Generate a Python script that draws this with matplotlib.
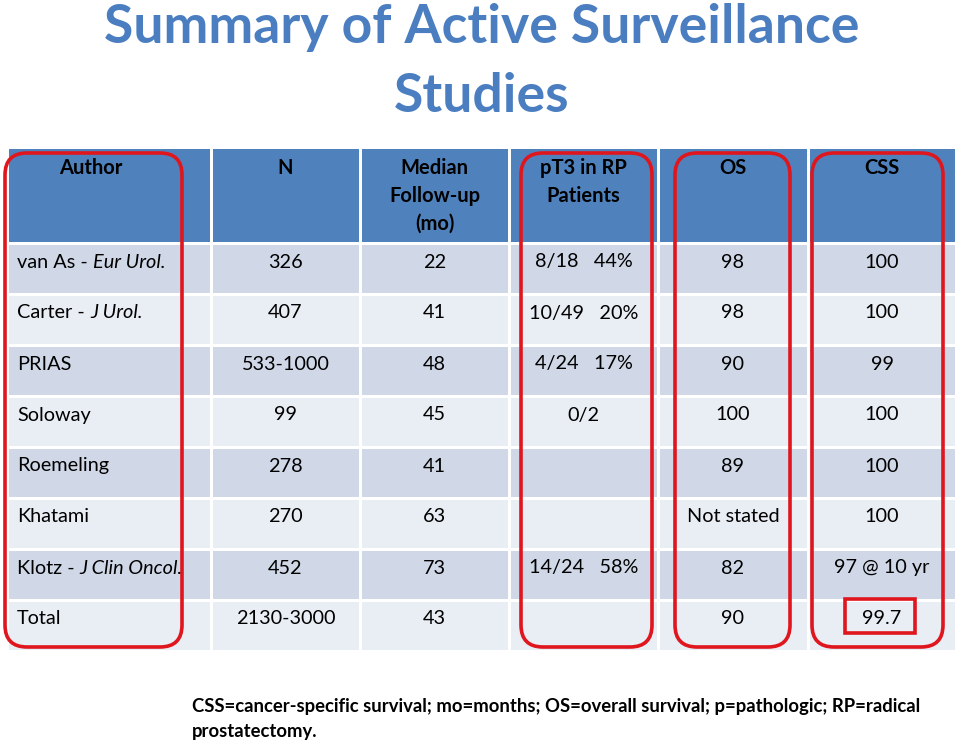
import matplotlib
matplotlib.use("Agg")
import matplotlib.pyplot as plt
from matplotlib.patches import Rectangle, FancyBboxPatch

plt.rcParams['font.family'] = ['Lato', 'DejaVu Sans']

# table content
headers = ["Author", "N", "Median\nFollow-up\n(mo)", "pT3 in RP\nPatients", "OS", "CSS"]
authors = ["van As - ", "Carter - ", "PRIAS", "Soloway", "Roemeling", "Khatami",
           "Klotz - ", "Total"]
journals = ["Eur Urol.", "J Urol.", "", "", "", "", "J Clin Oncol.", ""]
n_patients = ["326", "407", "533-1000", "99", "278", "270", "452", "2130-3000"]
followup = ["22", "41", "48", "45", "41", "63", "73", "43"]
pt3 = ["8/18   44%", "10/49   20%", "4/24   17%", "0/2", "", "", "14/24   58%", ""]
os_vals = ["98", "98", "90", "100", "89", "Not stated", "82", "90"]
css_vals = ["100", "100", "99", "100", "100", "100", "97 @ 10 yr", "99.7"]
footnote = ("CSS=cancer-specific survival; mo=months; OS=overall survival; p=pathologic; RP=radical\n"
            "prostatectomy.")

# layout (pixels)
col_edges = [7, 211, 360, 509, 658, 808, 956]
head_top, head_bot = 149, 243
row_h = 51
HEAD_BLUE = "#4F81BD"
ROW_DARK = "#D0D8E8"
ROW_LIGHT = "#E9EDF4"
RED = "#E0161E"
TITLE_BLUE = "#4A7EC0"
FS = 14.3

fig = plt.figure(figsize=(9.6, 7.4), dpi=100)
ax = fig.add_axes([0, 0, 1, 1])
ax.set_xlim(0, 960)
ax.set_ylim(740, 0)
ax.axis("off")

ax.text(482, 28, "Summary of Active Surveillance", ha="center", va="center",
        fontsize=38.5, fontweight="bold", color=TITLE_BLUE)
ax.text(482, 96, "Studies", ha="center", va="center",
        fontsize=38.5, fontweight="bold", color=TITLE_BLUE)

gap = 1.5
for c in range(len(headers)):
    x0, x1 = col_edges[c], col_edges[c + 1]
    ax.add_patch(Rectangle((x0 + gap, head_top), x1 - x0 - 2 * gap, head_bot - head_top - gap,
                           facecolor=HEAD_BLUE, edgecolor="none"))
    hx = (x0 + x1) / 2
    if c == 0:
        hx = 91
    ax.text(hx, 158, headers[c], ha="center", va="top", fontsize=14.5,
            fontweight="bold", color="black", linespacing=1.5)

columns = [n_patients, followup, pt3, os_vals, css_vals]
for r in range(len(authors)):
    y0 = head_bot + r * row_h
    color = ROW_DARK if r % 2 == 0 else ROW_LIGHT
    for c in range(len(headers)):
        x0, x1 = col_edges[c], col_edges[c + 1]
        ax.add_patch(Rectangle((x0 + gap, y0 + gap), x1 - x0 - 2 * gap, row_h - 2 * gap,
                               facecolor=color, edgecolor="none"))
    ty = y0 + 19
    t = ax.text(17, ty, authors[r], ha="left", va="center", fontsize=FS, color="black")
    if journals[r]:
        fig.canvas.draw()
        bb = t.get_window_extent()
        ax.annotate(journals[r], xy=(bb.x1, (bb.y0 + bb.y1) / 2), xycoords="figure pixels",
                    ha="left", va="center", fontsize=FS, style="italic", color="black",
                    annotation_clip=False)
    for c, vals in enumerate(columns, start=1):
        cx = (col_edges[c] + col_edges[c + 1]) / 2
        ax.text(cx, ty, vals[r], ha="center", va="center", fontsize=FS, color="black")

# red highlight outlines
for (x0, x1) in [(5, 182), (521, 652), (675, 790), (812, 943)]:
    ax.add_patch(FancyBboxPatch((x0, 153), x1 - x0, 647 - 153,
                                boxstyle="round,pad=0,rounding_size=22",
                                facecolor="none", edgecolor=RED, linewidth=2.6))
ax.add_patch(Rectangle((845, 599), 70, 34, facecolor="none", edgecolor=RED, linewidth=2.6))

ax.text(192, 698, footnote, ha="left", va="top", fontsize=13.3, fontweight="bold",
        color="black", linespacing=1.55)

fig.savefig("out.png", dpi=100)
